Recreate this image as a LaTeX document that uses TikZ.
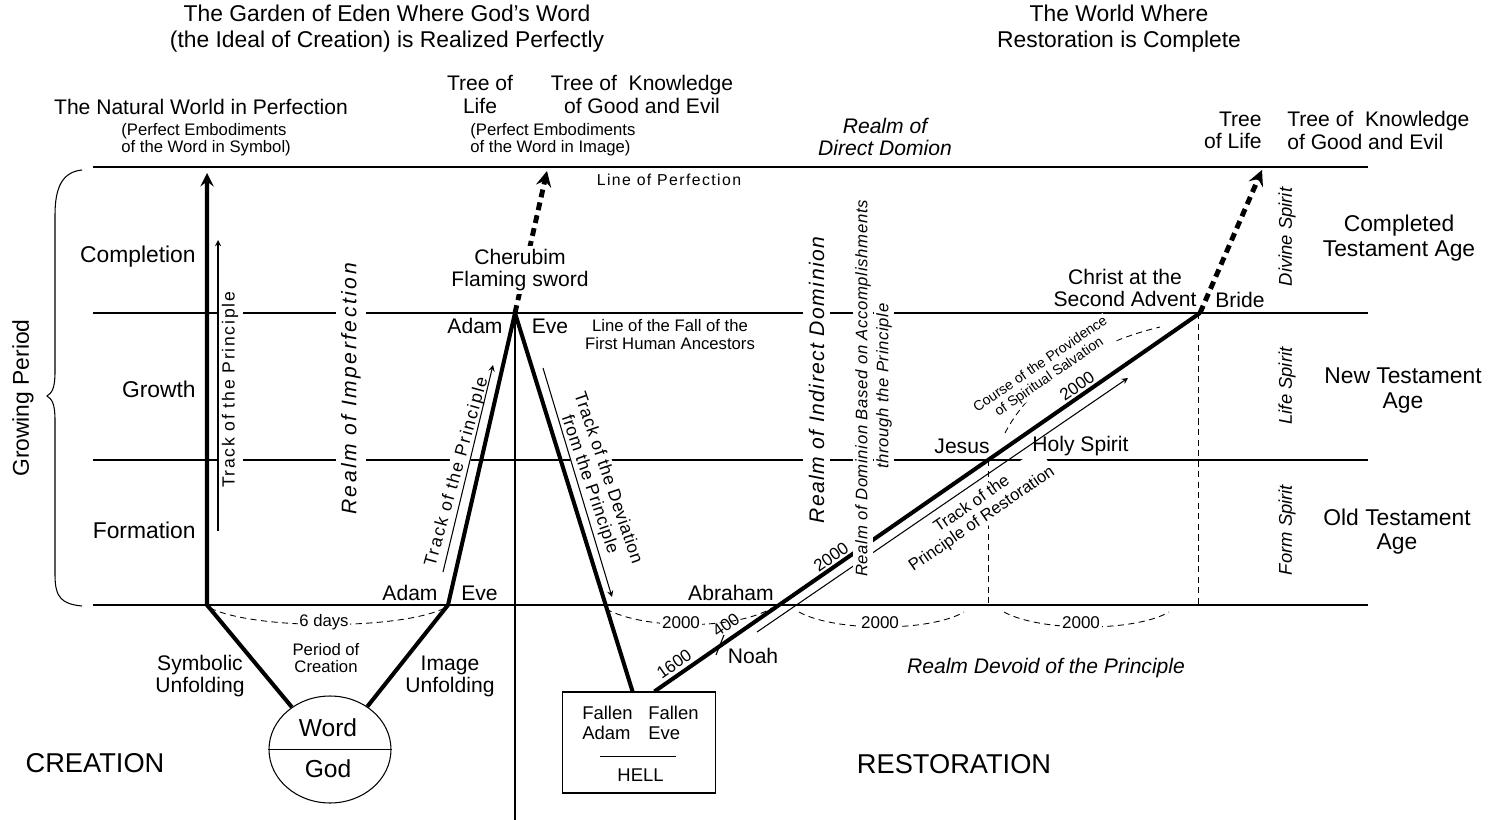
\documentclass[tikz,border=0pt]{standalone}
\usepackage{fontspec}
\setmainfont{Liberation Sans}
\usetikzlibrary{arrows}
\usetikzlibrary{shapes.geometric, positioning, calc}

\begin{document}
\begin{tikzpicture}[>=stealth, x=0.02cm, y=-0.02cm,
    bigtext/.style={font=\fontsize{13}{14.7}\selectfont, align=center, inner sep=0pt},
    agetext/.style={font=\fontsize{13}{13.9}\selectfont, align=center, inner sep=0pt},
    midtext/.style={font=\fontsize{12}{12.6}\selectfont, align=center, inner sep=0pt},
    smalltext/.style={font=\fontsize{9.5}{9.8}\selectfont, align=center, inner sep=0pt},
    captext/.style={font=\fontsize{15.5}{18}\selectfont, inner sep=0pt},
    spirittext/.style={font=\fontsize{10.5}{12}\selectfont\itshape, rotate=90, inner sep=0pt},
    tracktext/.style={font=\fontsize{10}{11}\selectfont\addfontfeature{LetterSpace=#1}, align=center, fill=white, inner sep=1.5pt},
    realmtext/.style={font=\fontsize{12}{14}\selectfont\itshape\addfontfeature{LetterSpace=#1}, rotate=90, fill=white, inner sep=3pt},
    numtext/.style={font=\fontsize{9.7}{11}\selectfont, inner sep=1pt},
    levelline/.style={line width=1.1pt},
    thickline/.style={line width=2.3pt},
    dashedup/.style={->, line width=2.8pt, dash pattern=on 4.5pt off 3pt},
    guide/.style={->, line width=0.6pt},
    periodarc/.style={line width=0.5pt, dash pattern=on 3.5pt off 2.5pt}]

  \useasboundingbox (0,0) rectangle (1493,820);

  \foreach \y in {167,313,460,605}
    \draw[levelline] (93,\y) -- (1368,\y);

  \coordinate (symtop) at (207,173);
  \coordinate (symbase) at (207,605);
  \coordinate (adambase) at (448,605);
  \coordinate (apex) at (515,313);
  \coordinate (bride) at (1200,313);
  \coordinate (lifetipL) at (547,171);
  \coordinate (lifetipR) at (1262,170);
  \coordinate (axisend) at (515,820);
  \coordinate (jesus) at (988,460);
  \coordinate (jesusfoot) at (988,605);
  \coordinate (brideline) at (1198,313);
  \coordinate (bridefoot) at (1198,605);

  \node[draw, ellipse, line width=0.6pt, minimum width=2.44cm, minimum height=2.14cm, inner sep=0pt] (word) at (330,749.5) {};
  \node[draw, line width=0.6pt, minimum width=3.06cm, minimum height=2.02cm, inner sep=0pt] (hell) at (638.8,742.5) {};
  \draw[line width=0.6pt] (word.west) -- (word.east);
  \draw[line width=0.5pt] (600,756) -- (676,756);

  \draw[levelline] (apex) -- (axisend);
  \draw[periodarc] (jesus) -- (jesusfoot);
  \draw[periodarc] (brideline) -- (bridefoot);

  \draw[periodarc] (210,608) .. controls (255,630) and (400,630) .. (445,608);
  \draw[periodarc] (606,609) .. controls (645,630) and (735,630) .. (772,608);
  \draw[periodarc] (799,612) .. controls (835,632) and (930,632) .. (964,612);
  \draw[periodarc] (1004,612) .. controls (1040,632) and (1135,632) .. (1169,612);
  \draw[periodarc] (1005,433) .. controls (1030,385) and (1085,345) .. (1160,327);
  \node[smalltext, fill=white, inner sep=1pt] (sixdays) at (324,622) {6 days};
  \node[numtext, fill=white] (yearsA) at (681,623) {2000};
  \node[numtext, fill=white] (yearsB) at (880,623) {2000};
  \node[numtext, fill=white] (yearsC) at (1081,623) {2000};

  \draw[line width=0.6pt] (82,170) .. controls (62,172) and (55,188) .. (55,215) -- (55,372)
    .. controls (55,388) and (52,393) .. (47,396) .. controls (52,399) and (55,404) .. (55,420)
    -- (55,575) .. controls (55,598) and (62,604) .. (82,606);

  \node[tracktext=10, rotate=90, inner sep=2.5pt] (trackP) at (230,390) {Track of the Principle};
  \node[tracktext=10, rotate=74.4, inner sep=1pt] (trackA) at (457,472) {Track of the Principle};
  \node[tracktext=3, rotate=-71.1, inner sep=1pt] (trackD) at (598.5,481.5) {Track of the Deviation\\from the Principle};
  \node[realmtext=12] (imperf) at (351,389) {Realm of Imperfection};
  \node[realmtext=7] (indirect) at (816.5,380) {Realm of Indirect Dominion};
  \node[font=\fontsize{9.5}{10.2}\selectfont, align=center, rotate=34.5, fill=white, inner sep=0.5pt] (trackR) at (977,512) {Track of the\\Principle of Restoration};

  \draw[thickline, ->] (word.132) -- (symbase) -- (symtop);
  \draw[thickline] (word.49) -- (adambase) -- (apex) -- (hell.97);
  \draw[thickline] (hell.73) -- (bride);
  \draw[dashedup] (apex) -- (lifetipL);
  \draw[dashedup] (bride) -- (lifetipR);
  \draw[guide] (218,531) -- (218,240);
  \draw[guide] (443,572) -- (493,365);
  \draw[guide] (543,368) -- (612,597);
  \draw[guide] (757,632) -- (1128,378);
  \draw[line width=0.6pt] (716,655) -- (724,635);

  \node[font=\fontsize{9.5}{11}\selectfont\itshape\addfontfeature{LetterSpace=4}, rotate=90, fill=white, inner sep=1.5pt] (dominionA) at (863,388.5) {Realm of Dominion Based on Accomplishments};
  \node[font=\fontsize{9.5}{11}\selectfont\itshape\addfontfeature{LetterSpace=4}, rotate=90, fill=white, inner sep=1.5pt] (dominionB) at (884,386) {through the Principle};
  \node[midtext, fill=white, inner sep=2pt] (cherub) at (520,270) {Cherubim\\Flaming sword};
  \node[font=\fontsize{8}{8.8}\selectfont, align=center, rotate=34.5, fill=white, inner sep=0.5pt] (provid) at (1045,371) {Course of the Providence\\of Spiritual Salvation};

  \node[bigtext] (eden) at (387,29) {The Garden of Eden Where God's Word\\(the Ideal of Creation) is Realized Perfectly};
  \node[bigtext] (restored) at (1119,29) {The World Where\\Restoration is Complete};
  \node[midtext] (natural) at (201,107) {The Natural World in Perfection};
  \node[smalltext, align=left, anchor=west] (symnote) at (121,139.5) {(Perfect Embodiments\\of the Word in Symbol)};
  \node[midtext] (lifeL) at (480,94.5) {Tree of\\Life};
  \node[midtext] (knowL) at (642,94.5) {Tree of\ \ Knowledge\\of Good and Evil};
  \node[smalltext, align=left, anchor=west] (imgnote) at (470,139.5) {(Perfect Embodiments\\of the Word in Image)};
  \node[midtext, font=\fontsize{12}{12.6}\selectfont\itshape] (direct) at (885,137) {Realm of\\Direct Domion};
  \node[midtext, align=right, anchor=east] (lifeR) at (1262,130.5) {Tree\\of Life};
  \node[midtext, align=left, anchor=west] (knowR) at (1287,130.5) {Tree of\ \ Knowledge\\of Good and Evil};
  \node[font=\fontsize{9}{10}\selectfont\addfontfeature{LetterSpace=9}, inner sep=0pt] (perfline) at (669,180) {Line of Perfection};

  \node[bigtext, anchor=east] (completion) at (196,257) {Completion};
  \node[bigtext, anchor=east] (growth) at (196,389) {Growth};
  \node[bigtext, anchor=east] (formation) at (196,530) {Formation};
  \node[bigtext, rotate=90] (growing) at (23,398) {Growing Period};

  \node[midtext] (adamtop) at (475,326) {Adam};
  \node[midtext] (evetop) at (550,326) {Eve};
  \node[smalltext] (fallline) at (670,334.5) {Line of the Fall of the\\First Human Ancestors};
  \node[midtext] (adamlow) at (410,593) {Adam};
  \node[midtext] (evelow) at (479.5,593) {Eve};

  \node[midtext] (symb) at (200,676) {Symbolic\\Unfolding};
  \node[midtext] (imgunf) at (450,676) {Image\\Unfolding};
  \node[smalltext] (period) at (326,658) {Period of\\Creation};
  \node[font=\fontsize{14}{16}\selectfont, inner sep=0pt] (wordtxt) at (328,728) {Word};
  \node[font=\fontsize{14}{16}\selectfont, inner sep=0pt] (godtxt) at (328,769) {God};
  \node[captext] (creation) at (95,763) {CREATION};
  \node[captext] (restor) at (954,764) {RESTORATION};

  \node[font=\fontsize{10.5}{11.3}\selectfont, align=left, anchor=west, inner sep=0pt] (fadam) at (582,723) {Fallen\\Adam};
  \node[font=\fontsize{10.5}{11.3}\selectfont, align=left, anchor=west, inner sep=0pt] (feve) at (648,723) {Fallen\\Eve};
  \node[font=\fontsize{10.5}{12}\selectfont, inner sep=0pt] (helltxt) at (640.5,775) {HELL};

  \node[midtext] (abr) at (731,593) {Abraham};
  \node[midtext] (noah) at (753,656) {Noah};
  \node[numtext, rotate=34.8] (y1600) at (674,664) {1600};
  \node[numtext, rotate=34.8] (y400) at (726,625) {400};
  \node[numtext, rotate=34.8] (y2000a) at (831,557) {2000};
  \node[numtext, rotate=34.8] (y2000b) at (1077,386) {2000};
  \node[midtext] (jesustxt) at (962,446) {Jesus};
  \node[midtext] (holy) at (1080.5,446) {Holy Spirit};
  \node[midtext] (christ) at (1125,288) {Christ at the\\Second Advent};
  \node[midtext] (bridetxt) at (1240,300) {Bride};
  \node[midtext, font=\fontsize{12}{12.6}\selectfont\itshape] (devoid) at (1046,668) {Realm Devoid of the Principle};

  \node[spirittext] (divine) at (1287,237) {Divine Spirit};
  \node[spirittext] (lifesp) at (1287,386) {Life Spirit};
  \node[spirittext] (formsp) at (1287,530) {Form Spirit};
  \node[agetext] (complage) at (1399,238) {Completed\\Testament Age};
  \node[agetext] (newage) at (1403,390.5) {New Testament\\Age};
  \node[agetext] (oldage) at (1397,531.5) {Old Testament\\Age};
\end{tikzpicture}
\end{document}
